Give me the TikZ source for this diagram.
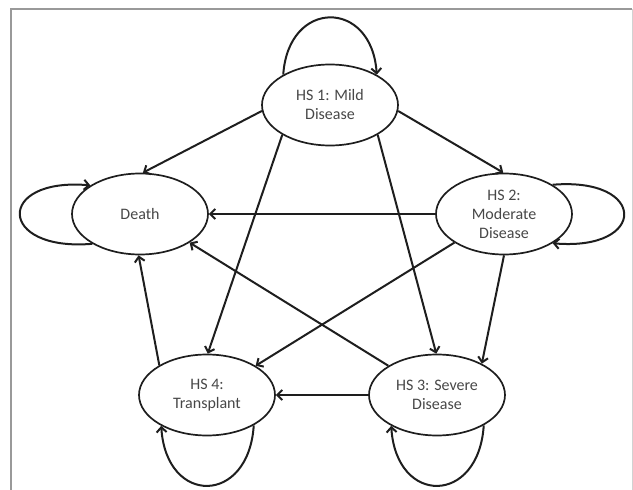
\documentclass[tikz,border=0pt]{standalone}
\usepackage{fontspec}
\setmainfont{Carlito}
\usetikzlibrary{arrows.meta,shapes.geometric}

\definecolor{linegray}{HTML}{1E1E1E}
\definecolor{textgray}{HTML}{474747}

\begin{document}
\begin{tikzpicture}[x=1pt, y=-1pt, >={Straight Barb[length=5pt,width=10pt]},
    hsnode/.style={draw=linegray, ellipse, line width=1.7pt, minimum width=136pt, minimum height=81pt, inner sep=0pt, align=center, text=textgray, font=\fontsize{16}{19}\selectfont},
    link/.style={->, draw=linegray, line width=2pt}]
    \useasboundingbox (0,0) rectangle (633,490);
    % frame
    \draw[gray!80, line width=1.5pt] (11,490) -- (11,9) -- (632,9);
    \draw[gray!35, line width=1pt] (632,9) -- (632,490);

    \node[hsnode] (hs1) at (330,105) {HS 1: Mild\\Disease};
    \node[hsnode] (death) at (140,214) {Death};
    \node[hsnode] (hs2) at (504,214) {HS 2:\\Moderate\\Disease};
    \node[hsnode] (hs4) at (207,395) {HS 4:\\Transplant};
    \node[hsnode] (hs3) at (437,395) {HS 3: Severe\\Disease};

    \draw[link] (hs1.185) -- (death.86);
    \draw[link] (hs1.355) -- (hs2.91);
    \draw[link] (hs1.212) -- (hs4.89);
    \draw[link] (hs1.328) -- (hs3.91);
    \draw[link] (hs2.west) -- (death.east);
    \draw[link] (hs2.210) -- (hs4.31);
    \draw[link] (hs2.270) -- (hs3.35);
    \draw[link] (hs3.149) -- (death.330);
    \draw[link] (hs3.west) -- (hs4.east);
    \draw[link] (hs4.148) -- (death.268);

    % self loops
    \draw[link] (hs1.147) .. controls +(5,-76) and +(-5,-76) .. (hs1.33);
    \draw[link] (death.212) .. controls +(-95,8) and +(-95,-8) .. (death.150);
    \draw[link] (hs2.31) .. controls +(95,-8) and +(95,8) .. (hs2.329);
    \draw[link] (hs4.327) .. controls +(-5,80) and +(5,80) .. (hs4.214);
    \draw[link] (hs3.327) .. controls +(-5,80) and +(5,80) .. (hs3.214);
  \end{tikzpicture}
\end{document}
